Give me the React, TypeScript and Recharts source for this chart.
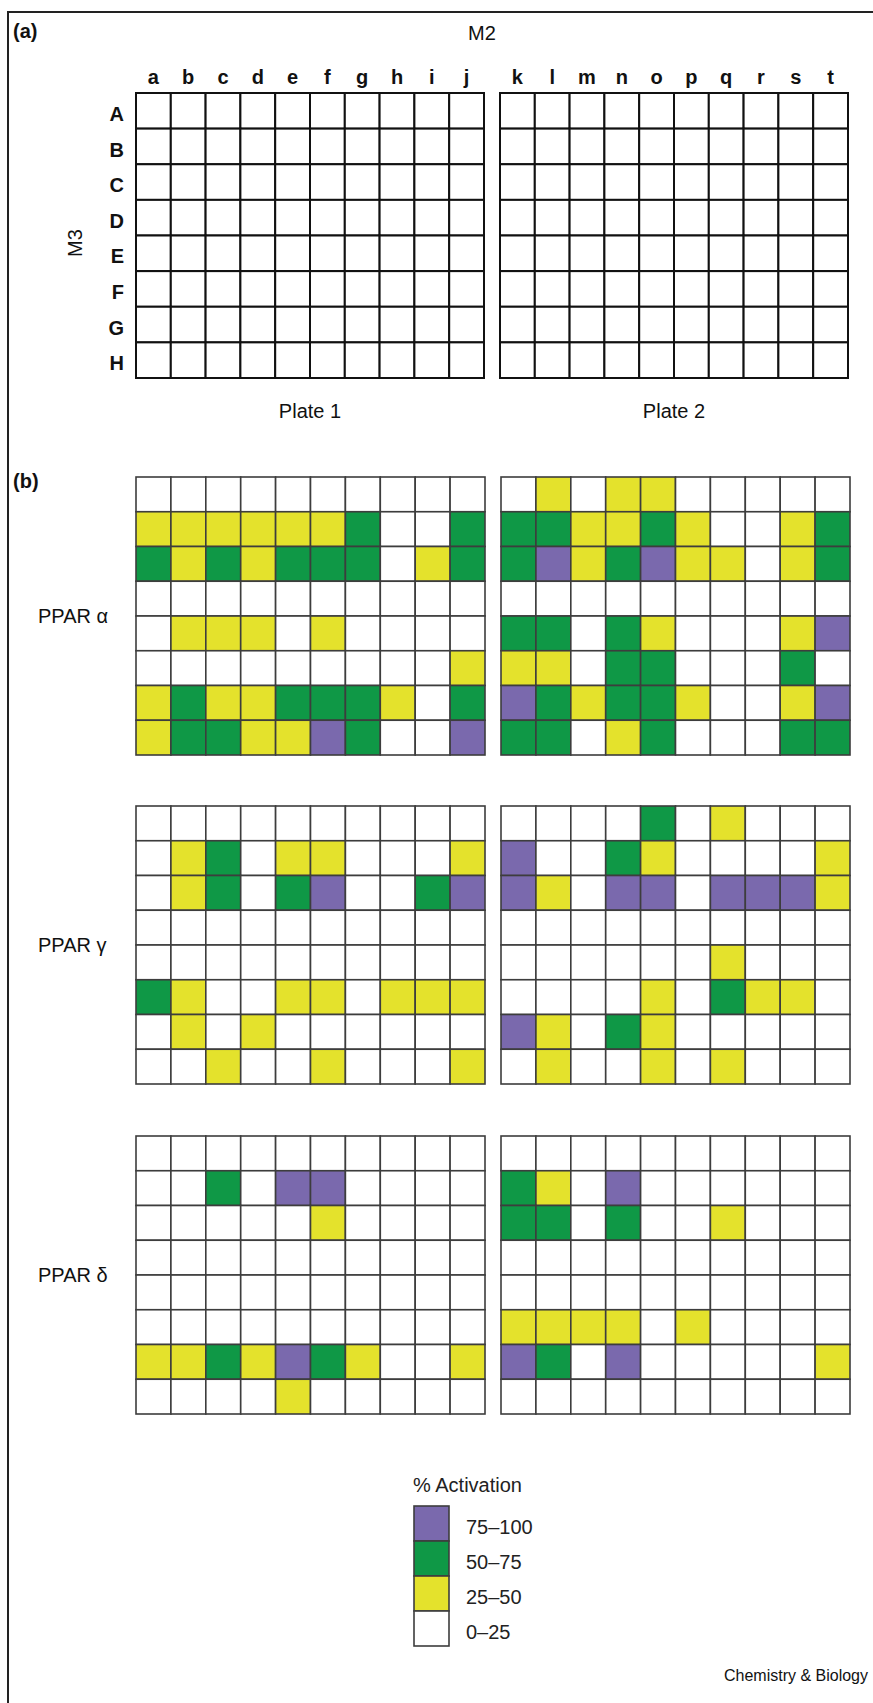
import React from "react";
import { ScatterChart, Scatter, XAxis, YAxis } from "recharts";

const FONT = "'Liberation Sans', Arial, Helvetica, sans-serif";

// bins: 0 = 0–25, 1 = 25–50, 2 = 50–75, 3 = 75–100 (% activation)
const BIN_COLORS = ["#ffffff", "#e4e22c", "#0f9846", "#7a69ad"];
const BIN_LABELS = ["0–25", "25–50", "50–75", "75–100"];

const ROWS = ["A", "B", "C", "D", "E", "F", "G", "H"];
const PLATE1_COLS = ["a", "b", "c", "d", "e", "f", "g", "h", "i", "j"];
const PLATE2_COLS = ["k", "l", "m", "n", "o", "p", "q", "r", "s", "t"];

const alphaPlate1 = [
  [0, 0, 0, 0, 0, 0, 0, 0, 0, 0],
  [1, 1, 1, 1, 1, 1, 2, 0, 0, 2],
  [2, 1, 2, 1, 2, 2, 2, 0, 1, 2],
  [0, 0, 0, 0, 0, 0, 0, 0, 0, 0],
  [0, 1, 1, 1, 0, 1, 0, 0, 0, 0],
  [0, 0, 0, 0, 0, 0, 0, 0, 0, 1],
  [1, 2, 1, 1, 2, 2, 2, 1, 0, 2],
  [1, 2, 2, 1, 1, 3, 2, 0, 0, 3],
];
const alphaPlate2 = [
  [0, 1, 0, 1, 1, 0, 0, 0, 0, 0],
  [2, 2, 1, 1, 2, 1, 0, 0, 1, 2],
  [2, 3, 1, 2, 3, 1, 1, 0, 1, 2],
  [0, 0, 0, 0, 0, 0, 0, 0, 0, 0],
  [2, 2, 0, 2, 1, 0, 0, 0, 1, 3],
  [1, 1, 0, 2, 2, 0, 0, 0, 2, 0],
  [3, 2, 1, 2, 2, 1, 0, 0, 1, 3],
  [2, 2, 0, 1, 2, 0, 0, 0, 2, 2],
];
const gammaPlate1 = [
  [0, 0, 0, 0, 0, 0, 0, 0, 0, 0],
  [0, 1, 2, 0, 1, 1, 0, 0, 0, 1],
  [0, 1, 2, 0, 2, 3, 0, 0, 2, 3],
  [0, 0, 0, 0, 0, 0, 0, 0, 0, 0],
  [0, 0, 0, 0, 0, 0, 0, 0, 0, 0],
  [2, 1, 0, 0, 1, 1, 0, 1, 1, 1],
  [0, 1, 0, 1, 0, 0, 0, 0, 0, 0],
  [0, 0, 1, 0, 0, 1, 0, 0, 0, 1],
];
const gammaPlate2 = [
  [0, 0, 0, 0, 2, 0, 1, 0, 0, 0],
  [3, 0, 0, 2, 1, 0, 0, 0, 0, 1],
  [3, 1, 0, 3, 3, 0, 3, 3, 3, 1],
  [0, 0, 0, 0, 0, 0, 0, 0, 0, 0],
  [0, 0, 0, 0, 0, 0, 1, 0, 0, 0],
  [0, 0, 0, 0, 1, 0, 2, 1, 1, 0],
  [3, 1, 0, 2, 1, 0, 0, 0, 0, 0],
  [0, 1, 0, 0, 1, 0, 1, 0, 0, 0],
];
const deltaPlate1 = [
  [0, 0, 0, 0, 0, 0, 0, 0, 0, 0],
  [0, 0, 2, 0, 3, 3, 0, 0, 0, 0],
  [0, 0, 0, 0, 0, 1, 0, 0, 0, 0],
  [0, 0, 0, 0, 0, 0, 0, 0, 0, 0],
  [0, 0, 0, 0, 0, 0, 0, 0, 0, 0],
  [0, 0, 0, 0, 0, 0, 0, 0, 0, 0],
  [1, 1, 2, 1, 3, 2, 1, 0, 0, 1],
  [0, 0, 0, 0, 1, 0, 0, 0, 0, 0],
];
const deltaPlate2 = [
  [0, 0, 0, 0, 0, 0, 0, 0, 0, 0],
  [2, 1, 0, 3, 0, 0, 0, 0, 0, 0],
  [2, 2, 0, 2, 0, 0, 1, 0, 0, 0],
  [0, 0, 0, 0, 0, 0, 0, 0, 0, 0],
  [0, 0, 0, 0, 0, 0, 0, 0, 0, 0],
  [1, 1, 1, 1, 0, 1, 0, 0, 0, 0],
  [3, 2, 0, 3, 0, 0, 0, 0, 0, 1],
  [0, 0, 0, 0, 0, 0, 0, 0, 0, 0],
];
// empty layout plate for panel (a)
const blankPlate = ROWS.map(() => PLATE1_COLS.map(() => 0));

const toPoints = (grid: number[][]) =>
  grid.flatMap((row, r) => row.map((bin, c) => ({ x: c + 0.5, y: r + 0.5, bin })));

const colTicks = PLATE1_COLS.map((_, i) => i + 0.5);
const rowTicks = ROWS.map((_, i) => i + 0.5);

const cellShape = (w: number, h: number, stroke: string, sw: number) => (p: any) => (
  <rect
    x={p.cx - w / 2}
    y={p.cy - h / 2}
    width={w}
    height={h}
    fill={BIN_COLORS[p.payload.bin]}
    stroke={stroke}
    strokeWidth={sw}
  />
);

type PlateProps = {
  grid: number[][];
  cols: string[];
  left: number;
  top: number;
  width: number;
  height: number;
  colLabels?: boolean;
  rowLabels?: boolean;
  stroke: string;
  sw: number;
};

function Plate({ grid, cols, left, top, width, height, colLabels, rowLabels, stroke, sw }: PlateProps) {
  const m = 3;
  const axisW = rowLabels ? 40 : 0;
  const axisH = colLabels ? 30 : 0;
  const labelStyle = { fill: "#111", fontSize: 20, fontWeight: 700, fontFamily: FONT };
  return (
    <div style={{ position: "absolute", left: left - axisW - m, top: top - axisH - m }}>
      <ScatterChart
        width={width + axisW + 2 * m}
        height={height + axisH + 2 * m}
        margin={{ top: m, right: m, bottom: m, left: m }}
      >
        <XAxis
          type="number"
          dataKey="x"
          domain={[0, 10]}
          ticks={colTicks}
          interval={0}
          orientation="top"
          hide={!colLabels}
          height={axisH}
          axisLine={false}
          tickLine={false}
          tickSize={0}
          tickMargin={9}
          tick={labelStyle}
          tickFormatter={(v: number) => cols[Math.floor(v)]}
        />
        <YAxis
          type="number"
          dataKey="y"
          domain={[0, 8]}
          reversed
          ticks={rowTicks}
          interval={0}
          hide={!rowLabels}
          width={axisW}
          axisLine={false}
          tickLine={false}
          tickSize={0}
          tickMargin={12}
          tick={{ ...labelStyle, dy: 3 }}
          tickFormatter={(v: number) => ROWS[Math.floor(v)]}
        />
        <Scatter
          data={toPoints(grid)}
          shape={cellShape(width / 10, height / 8, stroke, sw)}
          isAnimationActive={false}
        />
      </ScatterChart>
    </div>
  );
}

const legendPoints = [3, 2, 1, 0].map((bin, i) => ({ x: 0.5, y: i + 0.5, bin }));

function LegendChart() {
  const m = 3;
  return (
    <div style={{ position: "absolute", left: 414 - m, top: 1506 - m }}>
      <ScatterChart width={35 + 90 + 2 * m} height={140 + 2 * m} margin={{ top: m, right: m, bottom: m, left: m }}>
        <XAxis type="number" dataKey="x" domain={[0, 1]} hide />
        <YAxis
          type="number"
          dataKey="y"
          domain={[0, 4]}
          reversed
          orientation="right"
          width={90}
          ticks={[0.5, 1.5, 2.5, 3.5]}
          interval={0}
          axisLine={false}
          tickLine={false}
          tickSize={0}
          tickMargin={17}
          tick={{ fill: "#222", fontSize: 20, fontFamily: FONT, dy: 3 }}
          tickFormatter={(v: number) => BIN_LABELS[3 - Math.floor(v)]}
        />
        <Scatter data={legendPoints} shape={cellShape(35, 35, "#3d3d3d", 1.6)} isAnimationActive={false} />
      </ScatterChart>
    </div>
  );
}

const txt = (s: string, x: number, y: number, extra: React.CSSProperties = {}) => (
  <div
    style={{
      position: "absolute",
      left: x,
      top: y,
      transform: "translate(-50%, -50%)",
      whiteSpace: "nowrap",
      fontFamily: FONT,
      fontSize: 20,
      color: "#111",
      lineHeight: 1,
      ...extra,
    }}
  >
    {s}
  </div>
);

const leftTxt = (s: string, x: number, y: number, extra: React.CSSProperties = {}) => (
  <div
    style={{
      position: "absolute",
      left: x,
      top: y,
      transform: "translateY(-50%)",
      whiteSpace: "nowrap",
      fontFamily: FONT,
      fontSize: 20,
      color: "#111",
      lineHeight: 1,
      ...extra,
    }}
  >
    {s}
  </div>
);

const panelsB = [
  { name: "PPAR α", p1: alphaPlate1, p2: alphaPlate2, top: 477 },
  { name: "PPAR γ", p1: gammaPlate1, p2: gammaPlate2, top: 806 },
  { name: "PPAR δ", p1: deltaPlate1, p2: deltaPlate2, top: 1136 },
];

export default function App() {
  const dark = "#3d3d3d";
  return (
    <div style={{ position: "absolute", left: 0, top: 0, width: 873, height: 1703, background: "#fff", overflow: "hidden" }}>
      {/* frame */}
      <div style={{ position: "absolute", left: 7, top: 11, width: 866, height: 1.5, background: "#222" }} />
      <div style={{ position: "absolute", left: 7, top: 11, width: 1.5, height: 1692, background: "#222" }} />

      {/* panel (a) */}
      {leftTxt("(a)", 13, 31, { fontWeight: 700 })}
      {txt("M2", 482, 33)}
      {txt("M3", 75, 243, { transform: "translate(-50%, -50%) rotate(-90deg)" })}
      <Plate grid={blankPlate} cols={PLATE1_COLS} left={136} top={93} width={348} height={285} colLabels rowLabels stroke="#111" sw={2} />
      <Plate grid={blankPlate} cols={PLATE2_COLS} left={500} top={93} width={348} height={285} colLabels stroke="#111" sw={2} />
      {txt("Plate 1", 310, 411)}
      {txt("Plate 2", 674, 411)}

      {/* panel (b) */}
      {leftTxt("(b)", 13, 481, { fontWeight: 700 })}
      {panelsB.map((p) => (
        <React.Fragment key={p.name}>
          {leftTxt(p.name, 38, p.top + 139)}
          <Plate grid={p.p1} cols={PLATE1_COLS} left={136} top={p.top} width={349} height={278} stroke={dark} sw={1.6} />
          <Plate grid={p.p2} cols={PLATE2_COLS} left={501} top={p.top} width={349} height={278} stroke={dark} sw={1.6} />
        </React.Fragment>
      ))}

      {/* legend */}
      {leftTxt("% Activation", 413, 1485, { color: "#222" })}
      <LegendChart />

      <div style={{ position: "absolute", right: 5, top: 1667, fontFamily: FONT, fontSize: 16, color: "#111" }}>
        Chemistry &amp; Biology
      </div>
    </div>
  );
}
